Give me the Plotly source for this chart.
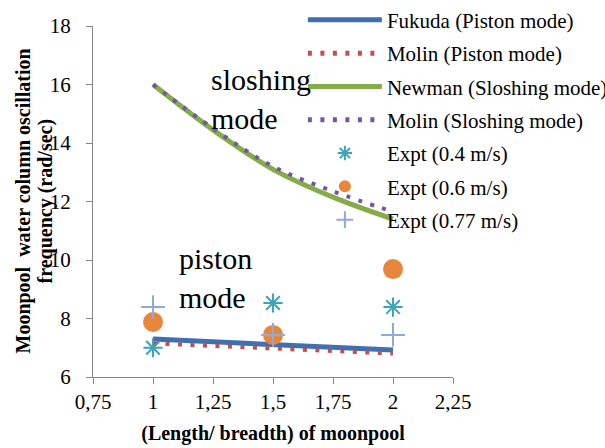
import plotly.graph_objects as go

ratio_lines = [1, 1.25, 1.5, 1.75, 2]
fukuda_piston = [7.30, 7.21, 7.12, 7.02, 6.92]
molin_piston = [7.15, 7.07, 6.99, 6.90, 6.80]
newman_slosh = [16.0, 14.45, 13.1, 12.15, 11.4]
molin_slosh = [16.0, 14.5, 13.2, 12.35, 11.65]

ratio_expt = [1, 1.5, 2]
expt_04 = [7.0, 8.53, 8.39]
expt_06 = [7.88, 7.44, 9.69]
expt_077 = [8.39, 7.44, 7.44]

xtick_vals = [0.75, 1, 1.25, 1.5, 1.75, 2, 2.25]
xtick_text = ["0,75", "1", "1,25", "1,5", "1,75", "2", "2,25"]

ytitle_lines = ["Moonpool  water column oscillation", "frequency (rad/sec)"]

FONT = "Liberation Serif"

fig = go.Figure()
fig.add_trace(go.Scatter(x=ratio_lines, y=fukuda_piston, mode="lines", name="Fukuda (Piston mode)",
                         line=dict(color="#4070B0", width=5), legendgroup="a"))
fig.add_trace(go.Scatter(x=ratio_lines, y=molin_piston, mode="lines", name="Molin (Piston mode)",
                         line=dict(color="#C0504D", width=4, dash="4px,8.5px"), legendgroup="b"))
fig.add_trace(go.Scatter(x=ratio_lines, y=newman_slosh, mode="lines", name="Newman (Sloshing mode)",
                         line=dict(color="#86AC4A", width=5, shape="spline"), legendgroup="c"))
fig.add_trace(go.Scatter(x=ratio_lines, y=molin_slosh, mode="lines", name="Molin (Sloshing mode)",
                         line=dict(color="#7157A0", width=4, dash="4px,8.5px", shape="spline"), legendgroup="d"))
fig.add_trace(go.Scatter(x=ratio_expt, y=expt_04, mode="markers", name="Expt (0.4 m/s)",
                         marker=dict(symbol="asterisk-open", size=16, color="#3DA3BA",
                                     line=dict(color="#3DA3BA", width=2)),
                         legendgroup="e"))
fig.add_trace(go.Scatter(x=ratio_expt, y=expt_06, mode="markers", name="Expt (0.6 m/s)",
                         marker=dict(symbol="circle", size=20, color="#E8873C"), legendgroup="f"))
fig.add_trace(go.Scatter(x=ratio_expt, y=expt_077, mode="markers", name="Expt (0.77 m/s)",
                         marker=dict(symbol="cross-thin-open", size=17, color="#8FA9D8",
                                     line=dict(color="#8FA9D8", width=2)),
                         legendgroup="g"))

fig.add_annotation(x=1.234, y=15.5, xref="x", yref="y", text="sloshing<br>mode", showarrow=False,
                   xanchor="left", yanchor="middle", align="left",
                   font=dict(family=FONT, size=30, color="black"))
fig.add_annotation(x=1.102, y=9.37, xref="x", yref="y", text="piston<br>mode", showarrow=False,
                   xanchor="left", yanchor="middle", align="left",
                   font=dict(family=FONT, size=30, color="black"))

# y-axis title as two rotated lines (paper coords relative to plot area)
plot_w = 605 - 93 - 152
for txt, px in zip(ytitle_lines, [23, 45]):
    fig.add_annotation(x=(px - 93) / plot_w, y=0.5, xref="paper", yref="paper",
                       text="<b>" + txt + "</b>", showarrow=False, textangle=-90,
                       xanchor="center", yanchor="middle",
                       font=dict(family=FONT, size=20, color="black"))

fig.update_layout(
    width=605, height=448,
    margin=dict(l=93, r=152, t=26, b=71, autoexpand=False),
    paper_bgcolor="white", plot_bgcolor="white",
    font=dict(family=FONT, size=21, color="black"),
    showlegend=True,
    legend=dict(x=0.583, y=1.075, xanchor="left", yanchor="top", bgcolor="rgba(0,0,0,0)",
                font=dict(family=FONT, size=21, color="black"), itemwidth=74, itemsizing="constant",
                traceorder="grouped", tracegroupgap=3, maxheight=1),
    xaxis=dict(range=[0.75, 2.25], tickvals=xtick_vals, ticktext=xtick_text, showgrid=False, zeroline=False,
               showline=True, linecolor="#868686", linewidth=1.3, ticks="outside", ticklen=6, tickcolor="#868686",
               tickfont=dict(family=FONT, size=21, color="black"),
               title=dict(text="<b>(Length/ breadth) of moonpool</b>", standoff=12,
                          font=dict(family=FONT, size=20, color="black"))),
    yaxis=dict(range=[6, 18], dtick=2, showgrid=False, zeroline=False,
               showline=True, linecolor="#868686", linewidth=1.3, ticks="outside", ticklen=6, tickcolor="#868686",
               ticklabelstandoff=11,
               tickfont=dict(family=FONT, size=21, color="black")),
)

fig.write_html("out.html")
